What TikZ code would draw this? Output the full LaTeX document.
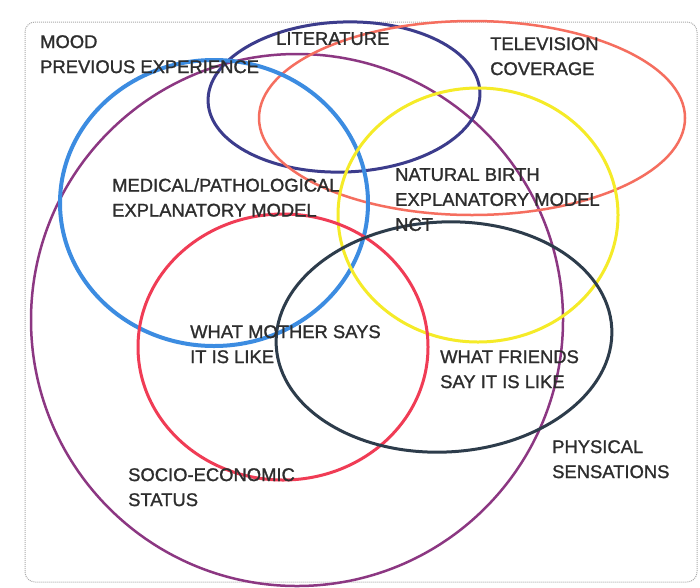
\documentclass[tikz,border=0pt]{standalone}
\usepackage{fontspec}
\setmainfont[FakeBold=1.2]{Liberation Sans}
\definecolor{cpurple}{RGB}{140,55,130}
\definecolor{cblue}{RGB}{60,140,225}
\definecolor{cnavy}{RGB}{60,60,140}
\definecolor{corange}{RGB}{245,110,95}
\definecolor{cyellow}{RGB}{245,235,40}
\definecolor{cred}{RGB}{240,60,85}
\definecolor{cslate}{RGB}{45,60,75}
\definecolor{ctext}{RGB}{45,45,45}
\definecolor{cborder}{RGB}{170,170,170}
\tikzset{
  lbl/.style={anchor=north west, inner sep=0pt, align=left, text=ctext,
    font=\fontsize{18.4}{25}\selectfont},
  ring/.style={line width=#1pt}
}
\begin{document}
\begin{tikzpicture}[x=1pt,y=-1pt]
\useasboundingbox (0,0) rectangle (700,587);
\fill[white] (0,0) rectangle (700,587);
\draw[cborder, densely dotted, line width=1pt, rounded corners=10pt] (25,22) rectangle (697,582);
% rings
\draw[cpurple, ring=2.5] (297,320) circle[radius=266pt];
\draw[cnavy, ring=3] (344,97) ellipse[x radius=136pt, y radius=75pt, rotate=2];
\draw[corange, ring=2.5] (472,118) ellipse[x radius=213pt, y radius=97pt];
\draw[cblue, ring=4] (214,203) ellipse[x radius=154pt, y radius=143pt];
\draw[cyellow, ring=3] (478,215) ellipse[x radius=140pt, y radius=127pt];
\draw[cred, ring=3] (283,347) ellipse[x radius=145pt, y radius=133pt];
\draw[cslate, ring=3] (444,337) ellipse[x radius=168pt, y radius=115pt, rotate=3];
% labels
\node[lbl] (mood) at (40,35) {MOOD\\PREVIOUS EXPERIENCE};
\node[lbl] (lit) at (276,32) {LITERATURE};
\node[lbl] (tv) at (490,37) {TELEVISION\\COVERAGE};
\node[lbl] (med) at (112,178) {MEDICAL/PATHOLOGICAL\\EXPLANATORY MODEL};
\node[lbl] (nat) at (395,168) {NATURAL BIRTH\\EXPLANATORY MODEL\\NCT};
\node[lbl] (mother) at (190,325) {WHAT MOTHER SAYS\\IT IS LIKE};
\node[lbl] (friends) at (440,350) {WHAT FRIENDS\\SAY IT IS LIKE};
\node[lbl] (phys) at (552,440) {PHYSICAL\\SENSATIONS};
\node[lbl] (socio) at (128,468) {SOCIO-ECONOMIC\\STATUS};
\end{tikzpicture}
\end{document}
